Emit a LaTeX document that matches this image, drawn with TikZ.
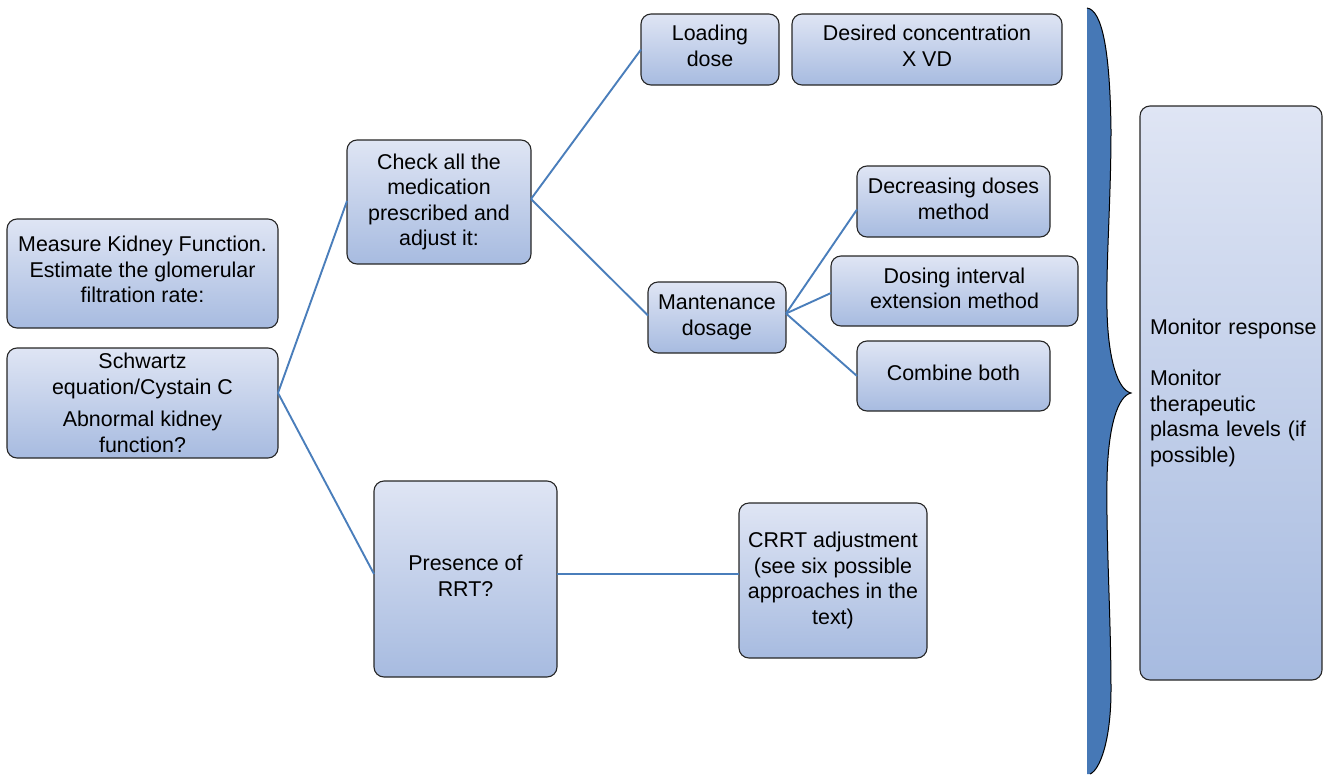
\documentclass[tikz,border=0pt]{standalone}
\usepackage{fontspec}
\setmainfont{Liberation Sans}
\definecolor{boxtop}{RGB}{223,229,244}
\definecolor{boxbot}{RGB}{167,187,224}
\definecolor{conncol}{RGB}{74,126,187}
\definecolor{bracecol}{RGB}{70,120,182}
\newcommand\dpfix[1]{\rule[-#1pt]{0pt}{0pt}}
\tikzset{
  box/.style={draw=black!85, line width=1.1pt, rounded corners=10pt,
    top color=boxtop, bottom color=boxbot, align=center, inner sep=2pt,
    outer sep=0pt, font=\fontsize{21.4}{25.5}\selectfont},
  conn/.style={draw=conncol, line width=1.9pt},
}
\begin{document}
\hyphenpenalty=10000\relax
\begin{tikzpicture}[x=1pt,y=-1pt]
\useasboundingbox (0,0) rectangle (1323,774);

\node[box, minimum width=271pt, minimum height=109pt] (measure) at (142.5,273.5)
  {Measure Kidney Function.\\Estimate the glomerular\\filtration rate:\dpfix{8}};
\node[box, minimum width=271pt, minimum height=110pt] (schwartz) at (142.5,403)
  {Schwartz\\equation/Cystain C\\[7pt]Abnormal kidney\\function?};
\node[box, minimum width=184pt, minimum height=124pt] (check) at (439,202)
  {Check all the\\medication\\prescribed and\\adjust it:};
\node[box, minimum width=138pt, minimum height=71pt] (loading) at (710,49.5)
  {Loading\\dose\dpfix{8}};
\node[box, minimum width=270pt, minimum height=71pt] (desired) at (927,49.5)
  {Desired concentration\\X VD\dpfix{8}};
\node[box, minimum width=193pt, minimum height=71pt] (decreasing) at (953.5,201.5)
  {Decreasing doses\\method\dpfix{6}};
\node[box, minimum width=247pt, minimum height=70pt] (dosing) at (954.5,291)
  {Dosing interval\\extension method\dpfix{6}};
\node[box, minimum width=193pt, minimum height=70pt] (combine) at (953.5,376)
  {Combine both\dpfix{6}};
\node[box, minimum width=138pt, minimum height=71pt] (mant) at (717,317.5)
  {Mantenance\\dosage};
\node[box, minimum width=183pt, minimum height=196pt] (presence) at (465.5,579)
  {Presence of\\RRT?\dpfix{7}};
\node[box, minimum width=188pt, minimum height=155pt] (crrt) at (833,580.5)
  {CRRT adjustment\\(see six possible\\approaches in the\\text)};
\node[box, minimum width=182pt, minimum height=574pt, text width=162pt,
  inner xsep=10pt, align=left] (monitor) at (1231,393)
  {\mbox{Monitor response}\\[25.5pt]Monitor\\therapeutic\\\mbox{plasma levels (if}\\possible)};

% connectors
\coordinate (sv) at ([yshift=10pt]schwartz.east);
\draw[conn] (sv) -- ([yshift=1pt]check.west);
\draw[conn] (sv) -- ([yshift=5pt]presence.west);
\coordinate (cv) at ([yshift=3pt]check.east);
\draw[conn] (cv) -- (loading.west);
\draw[conn] (cv) -- ([yshift=2pt]mant.west);
\coordinate (mv) at ([yshift=4pt]mant.east);
\draw[conn] (mv) -- ([yshift=-8pt]decreasing.west);
\draw[conn] (mv) -- ([yshift=-2pt]dosing.west);
\draw[conn] (mv) -- (combine.west);
\coordinate (pv) at ([yshift=5pt]presence.east);
\draw[conn] (pv) -- (pv -| crrt.west);

% brace
\fill[bracecol] (1087,8) .. controls (1102,10) and (1110,50) .. (1111,130)
  .. controls (1111,200) and (1106,260) .. (1107,310)
  .. controls (1108,360) and (1118,390) .. (1131,393)
  .. controls (1118,396) and (1108,425) .. (1107,480)
  .. controls (1106,540) and (1111,620) .. (1111,690)
  .. controls (1111,740) and (1100,770) .. (1090,774)
  -- (1087,774) -- cycle;
\draw[black, line width=1pt] (1087,8) .. controls (1102,10) and (1110,50) .. (1111,130)
  .. controls (1111,200) and (1106,260) .. (1107,310)
  .. controls (1108,360) and (1118,390) .. (1131,393)
  .. controls (1118,396) and (1108,425) .. (1107,480)
  .. controls (1106,540) and (1111,620) .. (1111,690)
  .. controls (1111,740) and (1100,770) .. (1090,774);
\end{tikzpicture}
\end{document}
